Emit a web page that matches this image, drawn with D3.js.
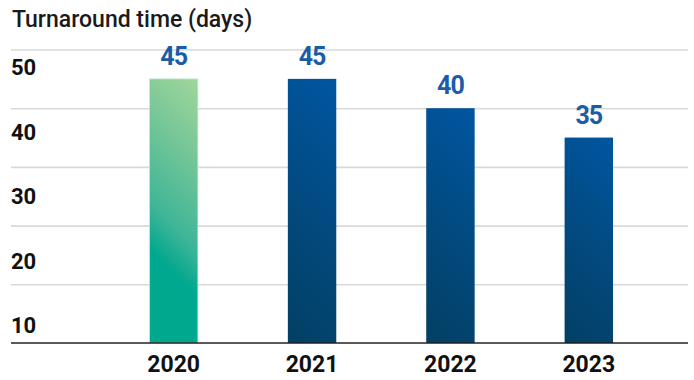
<!DOCTYPE html>
<html>
<head>
<meta charset="utf-8">
<script src="https://cdn.jsdelivr.net/npm/d3@7"></script>
<style>
  html, body { margin: 0; padding: 0; background: #fff; }
  svg { display: block; font-family: Roboto, "Noto Sans", sans-serif; }
</style>
</head>
<body>
<svg id="chart" width="694" height="380"></svg>
<script>
// Turnaround time per year, in days
const years = ["2020", "2021", "2022", "2023"];
const days = [45, 45, 40, 35];
const tickValues = [10, 20, 30, 40, 50];
const tickLabels = ["10", "20", "30", "40", "50"];
const title = "Turnaround time (days)";

const W = 694, H = 380;
const svg = d3.select("#chart");
const defs = svg.append("defs");

const left = 11, right = 688, baseY = 343;

const x = d3.scaleBand()
  .domain(years)
  .range([104.5, 658])
  .paddingInner(0.65)
  .paddingOuter(0.325);

const y = d3.scaleLinear().domain([0, 50]).range([baseY, 49.5]);

// axis labels sit in the bands between the grid lines
const yLabel = d3.scaleLinear().domain([50, 10]).range([75, 333]);

// title
svg.append("text")
  .attr("x", 12).attr("y", 27)
  .attr("font-size", 23).attr("font-weight", 500)
  .attr("fill", "#1a1a1a")
  .text(title);

// grid lines
const gridAxis = d3.axisLeft(y).tickValues(tickValues).tickSize(-(right - left)).tickFormat("");
const g = svg.append("g").attr("transform", `translate(${left},0)`).call(gridAxis);
g.select(".domain").remove();
g.selectAll(".tick line").attr("stroke", "#d9d9d9").attr("stroke-width", 1.6);

// y labels
svg.append("g").selectAll("text")
  .data(tickValues)
  .join("text")
  .attr("x", 11)
  .attr("y", d => yLabel(d))
  .attr("font-size", 22).attr("font-weight", 700)
  .attr("fill", "#111")
  .text((d, i) => tickLabels[i]);

// gradients: first year green, the rest blue
const palettes = [
  [["0", "#00a88e"], ["0.3", "#00a88f"], ["0.45", "#3fb597"], ["0.75", "#78c798"], ["1", "#a0d69b"]],
  [["0", "#033f63"], ["0.5", "#024a80"], ["1", "#0056a2"]]
];

years.forEach((yr, i) => {
  const x0 = x(yr), w = x.bandwidth();
  const top = y(days[i]);
  const h = baseY - top;
  const d = (w + h) / 2;
  const grad = defs.append("linearGradient")
    .attr("id", "grad" + i)
    .attr("gradientUnits", "userSpaceOnUse")
    .attr("x1", x0).attr("y1", baseY)
    .attr("x2", x0 + d).attr("y2", baseY - d);
  grad.selectAll("stop")
    .data(palettes[i === 0 ? 0 : 1])
    .join("stop")
    .attr("offset", s => s[0])
    .attr("stop-color", s => s[1]);
});

// bars
svg.append("g").selectAll("rect")
  .data(years)
  .join("rect")
  .attr("x", d => x(d))
  .attr("y", (d, i) => y(days[i]))
  .attr("width", x.bandwidth())
  .attr("height", (d, i) => baseY - y(days[i]))
  .attr("fill", (d, i) => `url(#grad${i})`)
  .attr("stroke", (d, i) => i === 0 ? "rgba(200,235,215,0.8)" : "none")
  .attr("stroke-width", 1);

// value labels
svg.append("g").selectAll("text")
  .data(years)
  .join("text")
  .attr("x", d => x(d) + x.bandwidth() / 2)
  .attr("y", (d, i) => y(days[i]) - 14)
  .attr("text-anchor", "middle")
  .attr("font-size", 25).attr("font-weight", 700)
  .attr("letter-spacing", -1)
  .attr("fill", "#1a5ca6")
  .text((d, i) => days[i]);

// baseline
svg.append("line")
  .attr("x1", left).attr("x2", right)
  .attr("y1", baseY).attr("y2", baseY)
  .attr("stroke", "#222").attr("stroke-width", 1.6);

// year labels
svg.append("g").selectAll("text")
  .data(years)
  .join("text")
  .attr("x", d => x(d) + x.bandwidth() / 2)
  .attr("y", 372)
  .attr("text-anchor", "middle")
  .attr("font-size", 23).attr("font-weight", 700)
  .attr("fill", "#111")
  .text(d => d);
</script>
</body>
</html>
